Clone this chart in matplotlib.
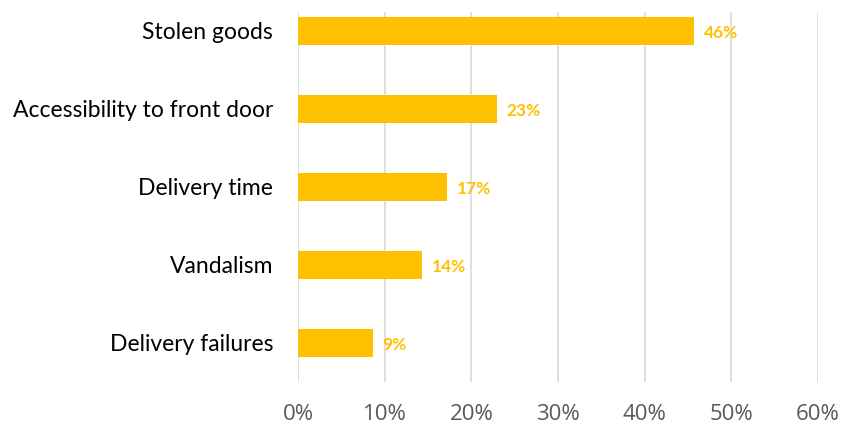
import matplotlib
matplotlib.use("Agg")
import matplotlib.pyplot as plt
from matplotlib.ticker import FuncFormatter

categories = ["Stolen goods", "Accessibility to front door", "Delivery time",
              "Vandalism", "Delivery failures"]
shares = [45.7, 23.0, 17.2, 14.3, 8.6]
xticks = [0, 10, 20, 30, 40, 50, 60]

bar_color = "#FFC000"

fig = plt.figure(figsize=(8.43, 4.28), dpi=100)
ax = fig.add_axes([298/843, 46/428, 520/843, 370/428])

ypos = list(range(len(categories)))
ax.barh(ypos, shares, height=0.36, color=bar_color, zorder=3)

for y, v in zip(ypos, shares):
    ax.text(v + 1.1, y + 0.03, "{:.0f}%".format(v), va="center", ha="left",
            color=bar_color, fontsize=12.5, fontweight="bold", family="Lato")

ax.set_xlim(0, 60)
ax.set_ylim(4.5, -0.24)
ax.set_xticks(xticks)
ax.xaxis.set_major_formatter(FuncFormatter(lambda v, p: "{:.0f}%".format(v)))
ax.set_yticks(ypos)
ax.set_yticklabels(categories, family="Lato", fontsize=16.5, color="#000000")

for lbl in ax.get_xticklabels():
    lbl.set_family("Open Sans")
    lbl.set_fontsize(16)
    lbl.set_color("#595959")

ax.tick_params(axis="x", length=0, pad=16)
ax.tick_params(axis="y", length=0, pad=18)
ax.grid(axis="x", color="#d9d9d9", linewidth=1.2, zorder=0)
for s in ax.spines.values():
    s.set_visible(False)

fig.savefig("out.png", dpi=100)
